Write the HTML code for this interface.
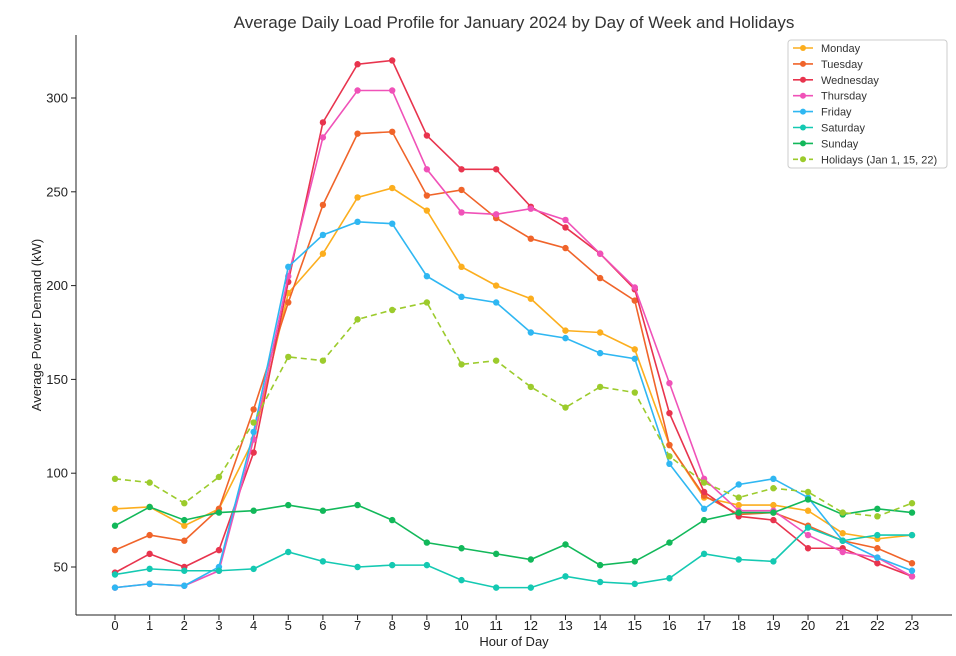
<!DOCTYPE html>
<html><head><meta charset="utf-8"><style>
body{margin:0;background:#fff;}
svg{display:block;font-family:"Liberation Sans","DejaVu Sans",sans-serif;}
</style></head><body>
<svg id="chart" width="956" height="656" xmlns="http://www.w3.org/2000/svg">
<text x="514" y="28" text-anchor="middle" font-size="17" fill="#333">Average Daily Load Profile for January 2024 by Day of Week and Holidays</text>
<text x="514" y="646" text-anchor="middle" font-size="13" fill="#222">Hour of Day</text>
<text transform="translate(41,325) rotate(-90)" text-anchor="middle" font-size="13" fill="#222">Average Power Demand (kW)</text>
<g id="axes"></g><g id="series"></g><g id="legend"></g>
</svg>
<script>
const hours=[0,1,2,3,4,5,6,7,8,9,10,11,12,13,14,15,16,17,18,19,20,21,22,23];
const yTicks=[50,100,150,200,250,300];
const seriesNames=["Monday","Tuesday","Wednesday","Thursday","Friday","Saturday","Sunday","Holidays (Jan 1, 15, 22)"];
const monday=[81,82,72,81,118,196,217,247,252,240,210,200,193,176,175,166,115,87,83,83,80,68,65,67];
const tuesday=[59,67,64,81,134,191,243,281,282,248,251,236,225,220,204,192,115,88,78,79,72,64,60,52];
const wednesday=[47,57,50,59,111,202,287,318,320,280,262,262,242,231,217,198,132,90,77,75,60,60,52,45];
const thursday=[39,41,40,48,118,205,279,304,304,262,239,238,241,235,217,199,148,97,80,80,67,58,55,45];
const friday=[39,41,40,50,122,210,227,234,233,205,194,191,175,172,164,161,105,81,94,97,87,64,55,48];
const saturday=[46,49,48,48,49,58,53,50,51,51,43,39,39,45,42,41,44,57,54,53,71,64,67,67];
const sunday=[72,82,75,79,80,83,80,83,75,63,60,57,54,62,51,53,63,75,79,79,86,78,81,79];
const holidays=[97,95,84,98,127,162,160,182,187,191,158,160,146,135,146,143,109,95,87,92,90,79,77,84];
const allSeries=[monday,tuesday,wednesday,thursday,friday,saturday,sunday,holidays];
const colors=["#fcae1e","#f0642a","#e8344e","#f052b8","#2fb7f2","#14c9b2","#12b85a","#9ccb2c"];
const NS="http://www.w3.org/2000/svg";
const X=h=>115+h*(912-115)/23;
const Y=v=>98+(300-v)*(567-98)/250;
function mk(tag,attrs,parent){const e=document.createElementNS(NS,tag);for(const k in attrs)e.setAttribute(k,attrs[k]);parent.appendChild(e);return e;}
const axes=document.getElementById('axes');
let l=mk('line',{x1:76,y1:35,x2:76,y2:615,stroke:'#222','stroke-width':1},axes);


l=mk('line',{x1:76,y1:615,x2:952,y2:615,stroke:'#222','stroke-width':1},axes);


hours.forEach(h=>{
 const t=mk('line',{x1:X(h),y1:615,x2:X(h),y2:620,stroke:'#222'},axes);
 
 
 const tx=mk('text',{x:X(h),y:630,'text-anchor':'middle','font-size':13,fill:'#222'},axes);tx.textContent=h;
 
 
});
yTicks.forEach(v=>{
 const t=mk('line',{x1:71,y1:Y(v),x2:76,y2:Y(v),stroke:'#222'},axes);
 
 
 const tx=mk('text',{x:68,y:Y(v)+4.5,'text-anchor':'end','font-size':13,fill:'#222'},axes);tx.textContent=v;
 
 
});
const sg=document.getElementById('series');
allSeries.forEach((d,i)=>{
 const g=mk('g',{},sg);
 
 
 const p=mk('polyline',{points:d.map((v,h)=>X(hours[h])+','+Y(v)).join(' '),fill:'none',stroke:colors[i],'stroke-width':1.6},g);
 if(i===7)p.setAttribute('stroke-dasharray','6,4');
 
 
 d.forEach((v,h)=>{const c=mk('circle',{cx:X(hours[h]),cy:Y(v),r:3.2,fill:colors[i]},g);
 
 });
});
const lg=document.getElementById('legend');


mk('rect',{x:788,y:40,width:159,height:128,rx:3,fill:'#fff','fill-opacity':0.85,stroke:'#ccc'},lg);
seriesNames.forEach((n,i)=>{
 const y=48+i*15.9;
 const g=mk('g',{},lg);
 
 
 const ln=mk('line',{x1:793,y1:y,x2:813,y2:y,stroke:colors[i],'stroke-width':1.6},g);
 if(i===7)ln.setAttribute('stroke-dasharray','5,3');
 mk('circle',{cx:803,cy:y,r:3,fill:colors[i]},g);
 const t=mk('text',{x:821,y:y+4,'font-size':11,fill:'#333'},g);t.textContent=n;
});
</script>
</body></html>
